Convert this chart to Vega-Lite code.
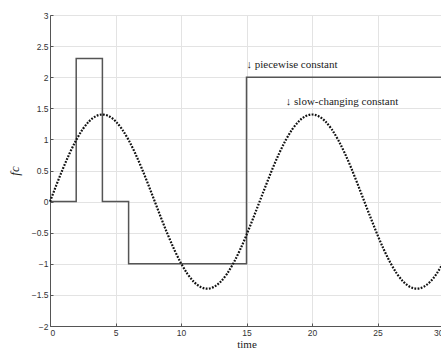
{
  "$schema": "https://vega.github.io/schema/vega-lite/v6.json",
  "autosize": "none",
  "padding": {"left": 50, "top": 15, "right": 0, "bottom": 26},
  "width": 393,
  "height": 311,
  "background": "white",
  "config": {
    "view": {"stroke": "#555", "strokeWidth": 1},
    "axis": {
      "gridColor": "#e3e3e3", "gridWidth": 1, "domainColor": "#555",
      "tickColor": "#555", "tickSize": -3, "labelFont": "Liberation Sans",
      "labelFontSize": 8.5, "labelColor": "#333", "titleFont": "Liberation Serif",
      "titleFontWeight": "normal", "titleFontSize": 11, "titleColor": "#222", "labelPadding": 5,
      "labelOverlap": false
    }
  },
  "datasets": {
    "pw": [
      {"i": 0, "t": 0, "v": 0}, {"i": 1, "t": 2, "v": 0}, {"i": 2, "t": 2, "v": 2.3},
      {"i": 3, "t": 4, "v": 2.3}, {"i": 4, "t": 4, "v": 0}, {"i": 5, "t": 6, "v": 0},
      {"i": 6, "t": 6, "v": -1}, {"i": 7, "t": 15, "v": -1}, {"i": 8, "t": 15, "v": 2},
      {"i": 9, "t": 30, "v": 2}
    ],
    "sc": [
      {"t": 0, "v": 0}, {"t": 0.5, "v": 0.273}, {"t": 1, "v": 0.536}, {"t": 1.5, "v": 0.778},
      {"t": 2, "v": 0.99}, {"t": 2.5, "v": 1.164}, {"t": 3, "v": 1.293}, {"t": 3.5, "v": 1.373},
      {"t": 4, "v": 1.4}, {"t": 4.5, "v": 1.373}, {"t": 5, "v": 1.293}, {"t": 5.5, "v": 1.164},
      {"t": 6, "v": 0.99}, {"t": 6.5, "v": 0.778}, {"t": 7, "v": 0.536}, {"t": 7.5, "v": 0.273},
      {"t": 8, "v": 0}, {"t": 8.5, "v": -0.273}, {"t": 9, "v": -0.536}, {"t": 9.5, "v": -0.778},
      {"t": 10, "v": -0.99}, {"t": 10.5, "v": -1.164}, {"t": 11, "v": -1.293}, {"t": 11.5, "v": -1.373},
      {"t": 12, "v": -1.4}, {"t": 12.5, "v": -1.373}, {"t": 13, "v": -1.293}, {"t": 13.5, "v": -1.164},
      {"t": 14, "v": -0.99}, {"t": 14.5, "v": -0.778}, {"t": 15, "v": -0.536}, {"t": 15.5, "v": -0.273},
      {"t": 16, "v": 0}, {"t": 16.5, "v": 0.273}, {"t": 17, "v": 0.536}, {"t": 17.5, "v": 0.778},
      {"t": 18, "v": 0.99}, {"t": 18.5, "v": 1.164}, {"t": 19, "v": 1.293}, {"t": 19.5, "v": 1.373},
      {"t": 20, "v": 1.4}, {"t": 20.5, "v": 1.373}, {"t": 21, "v": 1.293}, {"t": 21.5, "v": 1.164},
      {"t": 22, "v": 0.99}, {"t": 22.5, "v": 0.778}, {"t": 23, "v": 0.536}, {"t": 23.5, "v": 0.273},
      {"t": 24, "v": 0}, {"t": 24.5, "v": -0.273}, {"t": 25, "v": -0.536}, {"t": 25.5, "v": -0.778},
      {"t": 26, "v": -0.99}, {"t": 26.5, "v": -1.164}, {"t": 27, "v": -1.293}, {"t": 27.5, "v": -1.373},
      {"t": 28, "v": -1.4}, {"t": 28.5, "v": -1.373}, {"t": 29, "v": -1.293}, {"t": 29.5, "v": -1.164},
      {"t": 30, "v": -0.99}
    ],
    "labels": [
      {"t": 15, "v": 2.2, "label": "↓ piecewise constant"},
      {"t": 18, "v": 1.6, "label": "↓ slow-changing constant"}
    ]
  },
  "encoding": {
    "x": {"field": "t", "type": "quantitative", "scale": {"domain": [0, 30], "nice": false},
          "axis": {"values": [0, 5, 10, 15, 20, 25, 30], "format": "~g", "title": "time", "titlePadding": 2}},
    "y": {"field": "v", "type": "quantitative", "scale": {"domain": [-2, 3], "nice": false},
          "axis": {"values": [-2, -1.5, -1, -0.5, 0, 0.5, 1, 1.5, 2, 2.5, 3], "format": "~g", "title": "fc",
                   "titleFontStyle": "italic", "titleFontSize": 13, "titlePadding": 10}}
  },
  "layer": [
    {
      "data": {"name": "pw"},
      "mark": {"type": "line", "color": "#555", "strokeWidth": 1.5},
      "encoding": {
        "order": {"field": "i", "type": "quantitative"}
      }
    },
    {
      "data": {"name": "sc"},
      "mark": {"type": "line", "color": "#111", "strokeWidth": 2.2, "strokeDash": [1.8, 1.4], "interpolate": "natural"},
      "encoding": {}
    },
    {
      "data": {"name": "labels"},
      "mark": {"type": "text", "align": "left", "baseline": "middle", "font": "Liberation Serif", "fontSize": 11, "color": "#222"},
      "encoding": {
        "text": {"field": "label"}
      }
    }
  ]
}
